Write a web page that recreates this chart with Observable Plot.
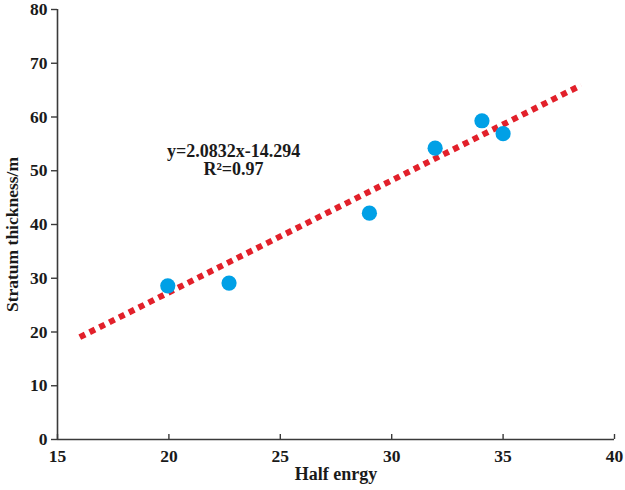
<!DOCTYPE html>
<html>
<head>
<meta charset="utf-8">
<script src="https://cdn.jsdelivr.net/npm/d3@7"></script>
<script src="https://cdn.jsdelivr.net/npm/@observablehq/plot@0.6"></script>
<style>
  html, body { margin: 0; padding: 0; background: #fff; }
  #chart svg { display: block; }
</style>
</head>
<body>
<div id="chart"></div>
<script>
// Measured samples: half energy vs. stratum thickness
const halfEnergy = [19.95, 22.7, 29.0, 31.95, 34.05, 35.0];
const thickness = [28.6, 29.1, 42.1, 54.2, 59.3, 56.9];

// Linear fit reported on the chart
const slope = 2.0832;
const intercept = -14.294;
const fitRange = [16, 38.5];
const equationLabel = "y=2.0832x-14.294\nR²=0.97";
const labelPos = [22.9, 52.0];

const xTicks = [15, 20, 25, 30, 35, 40];
const yTicks = [0, 10, 20, 30, 40, 50, 60, 70, 80];
const xLabel = "Half enrgy";
const yLabel = "Stratum thickness/m";

const points = halfEnergy.map((x, i) => ({x, y: thickness[i]}));
const fit = fitRange.map(x => ({x, y: slope * x + intercept}));

const axisColor = "#3a3a3a";
const textColor = "#1a1a1a";

const chart = Plot.plot({
  width: 625,
  height: 490,
  marginLeft: 57,
  marginRight: 11,
  marginTop: 9,
  marginBottom: 51,
  style: {fontFamily: "'Liberation Serif', 'Times New Roman', serif", fontWeight: "bold", fontSize: "17px", color: textColor, background: "#fff"},
  x: {domain: [15, 40]},
  y: {domain: [0, 80]},
  marks: [
    Plot.ruleX([15], {stroke: axisColor, strokeWidth: 1.6}),
    Plot.ruleY([0], {stroke: axisColor, strokeWidth: 1.6}),
    Plot.axisY({ticks: yTicks, tickSize: 6, tickPadding: 4, stroke: axisColor, strokeWidth: 1.4,
      label: null, fontSize: 17.5}),
    Plot.axisX({ticks: xTicks, tickSize: -5, tickPadding: 15, stroke: axisColor, strokeWidth: 1.4,
      label: null, fontSize: 17.5}),
    // axis titles
    Plot.text([yLabel], {frameAnchor: "left", textAnchor: "middle", dx: -45, dy: 10, rotate: -90, text: d => d,
      fontSize: 17.5, fill: textColor, letterSpacing: "0.5px"}),
    Plot.text([xLabel], {frameAnchor: "bottom", dy: 40, text: d => d,
      fontSize: 18, fill: textColor, letterSpacing: "0.8px"}),
    // fitted trend line
    Plot.line(fit, {x: "x", y: "y", stroke: "#e2202a", strokeWidth: 6, strokeDasharray: "6,5", strokeLinecap: "butt"}),
    Plot.dot(points, {x: "x", y: "y", r: 7.6, fill: "#00a0e6", stroke: "none"}),
    Plot.text([equationLabel], {x: () => labelPos[0], y: () => labelPos[1], text: d => d,
      fontSize: 18, fill: textColor, lineHeight: 1.0})
  ]
});

document.getElementById("chart").appendChild(chart);
</script>
</body>
</html>
